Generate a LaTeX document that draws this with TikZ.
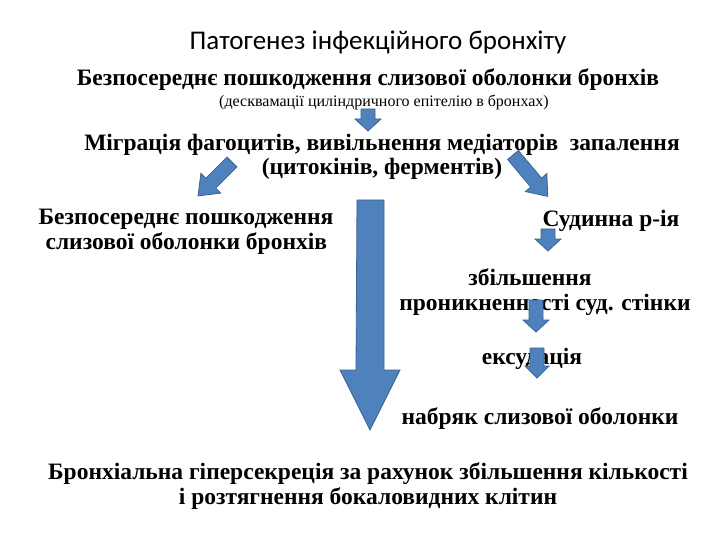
\documentclass[tikz,border=0pt]{standalone}
\usepackage{fontspec}
\setmainfont{Liberation Serif}
\newfontfamily\titlefont{Carlito}
\begin{document}
\begin{tikzpicture}[x=1pt,y=-1pt,
  txt/.style={font=\fontsize{23.5}{24.5}\selectfont\bfseries, inner sep=0, align=center},
  barrow/.style={fill=arrowblue, draw=arrowedge, line width=0.8pt}]
\definecolor{arrowblue}{HTML}{4F81BD}
\definecolor{arrowedge}{HTML}{3A6494}
\useasboundingbox (0,0) rectangle (720,540);
\fill[white] (0,0) rectangle (720,540);
% title
\node[inner sep=0,font=\titlefont\fontsize{27}{29}\selectfont] (title) at (378,42) {Патогенез інфекційного бронхіту};
\node[txt] (t1) at (368,80) {Безпосереднє пошкодження слизової оболонки бронхів};
\node[inner sep=0,font=\fontsize{16}{18}\selectfont] (t1s) at (384,102) {(десквамації циліндричного епітелію в бронхах)};
\node[txt] (t2) at (382,157) {Міграція фагоцитів, вивільнення медіаторів\ \ запалення\\(цитокінів, ферментів)};
\node[txt, align=left] (l1) at (186,232) {Безпосереднє пошкодження\\\hspace{7pt}слизової оболонки бронхів};
\node[txt] (r1) at (611,221) {Судинна р-ія};
\node[txt] (r2) at (545,292) {\hspace{-30pt}збільшення\\проникненності суд. стінки};
\node[txt] (r3) at (532,359) {ексудація};
\node[txt] (r4) at (540,419) {набряк слизової оболонки};
\node[txt] (b) at (368,486) {Бронхіальна гіперсекреція за рахунок збільшення кількості\\і розтягнення бокаловидних клітин};
% small down arrows
\newcommand\downarr[5]{%
  \draw[barrow] (#1-#4,#2) -- (#1+#4,#2) -- (#1+#4,#3) -- (#1+#5,#3) -- (#1,#3+12) -- (#1-#5,#3) -- (#1-#4,#3) -- cycle;}
\downarr{368}{109}{119}{7}{13}
\downarr{548}{229}{239}{7}{13}
\downarr{536}{300}{320}{7}{13}
\downarr{537}{348}{366}{7}{12}
% big arrow
\draw[barrow] (357,200) -- (384,200) -- (384,370) -- (400,370) -- (370,430) -- (340,370) -- (356,370) -- cycle;
% diagonal arrows
\begin{scope}[shift={(232,162)},rotate=-135]
\draw[barrow] (0,-7) -- (30,-7) -- (30,-14) -- (48,0) -- (30,14) -- (30,7) -- (0,7) -- cycle;
\end{scope}
\begin{scope}[shift={(513,155)},rotate=-50]
\draw[barrow] (0,-7) -- (36,-7) -- (36,-14) -- (54,0) -- (36,14) -- (36,7) -- (0,7) -- cycle;
\end{scope}
\end{tikzpicture}
\end{document}
